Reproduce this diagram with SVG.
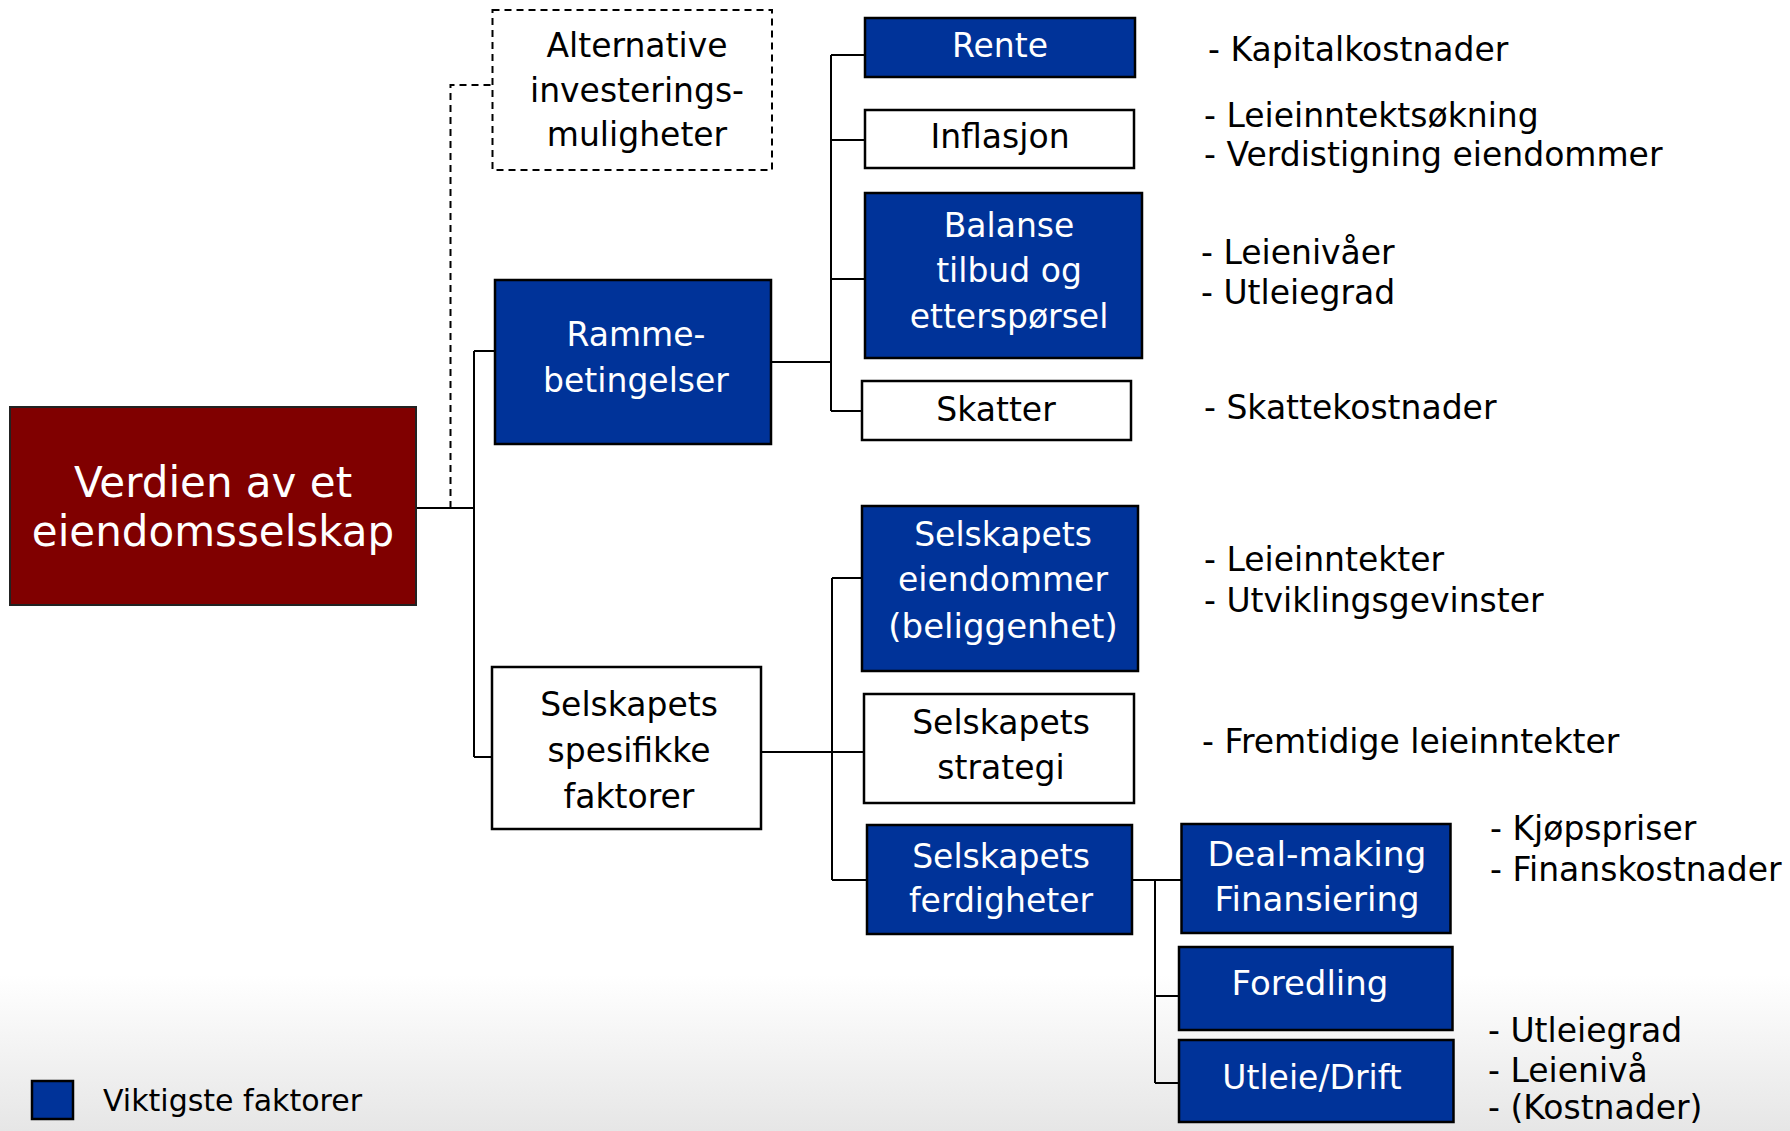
<svg xmlns="http://www.w3.org/2000/svg" width="1790" height="1131" viewBox="0 0 1790 1131">
<defs>
<linearGradient id="bg" x1="0" y1="0" x2="0" y2="1">
<stop offset="0" stop-color="#ffffff"/>
<stop offset="1" stop-color="#e6e6e6"/>
</linearGradient>
<style>
.blue{fill:#003399;stroke:#000;stroke-width:2.5}
.white{fill:#fff;stroke:#000;stroke-width:2.5}
.red{fill:#800000;stroke:#222;stroke-width:2}
.dash{fill:#fff;stroke:#000;stroke-width:2;stroke-dasharray:7 5}
.t{font-family:'DejaVu Sans','Liberation Sans',sans-serif;font-size:33px;text-anchor:middle;fill:#000}
.w{fill:#fff}
.s{font-family:'DejaVu Sans','Liberation Sans',sans-serif;font-size:33px;fill:#000}
.c{stroke:#000;stroke-width:2;fill:none}
.cd{stroke:#000;stroke-width:2;fill:none;stroke-dasharray:7 5}
</style>
</defs>
<rect x="0" y="0" width="1790" height="1131" fill="#fff"/>
<rect x="0" y="975" width="1790" height="156" fill="url(#bg)"/>

<g id="connectors">
<path class="cd" d="M450.5,508 V85 H492.5"/>
<path class="c" d="M416,508 H474 M474,351 V757 M474,351 H495 M474,757 H492"/>
<path class="c" d="M771,362 H831 M831,55 V411 M831,55 H865 M831,140 H865 M831,279 H865 M831,411 H862"/>
<path class="c" d="M761,752 H864 M832,578 V880 M832,578 H862 M832,880 H867"/>
<path class="c" d="M1132,880 H1181.5 M1155,880 V1083 M1155,996 H1179 M1155,1083 H1179"/>
</g>

<g id="root">
<rect class="red" x="10" y="407" width="406" height="198"/>
<text class="t w" x="213" y="497" style="font-size:42px">Verdien av et</text>
<text class="t w" x="213" y="546" style="font-size:42px">eiendomsselskap</text>
</g>

<g id="alternative">
<rect class="dash" x="492.5" y="10" width="279.5" height="160"/>
<text class="t" x="637" y="57">Alternative</text>
<text class="t" x="637" y="102">investerings-</text>
<text class="t" x="637" y="146">muligheter</text>
</g>

<g id="ramme">
<rect class="blue" x="495" y="280" width="276" height="164"/>
<text class="t w" x="636" y="346">Ramme-</text>
<text class="t w" x="636" y="392">betingelser</text>
</g>

<g id="rente">
<rect class="blue" x="865" y="18" width="270" height="59"/>
<text class="t w" x="1000" y="57">Rente</text>
</g>

<g id="inflasjon">
<rect class="white" x="865" y="110" width="269" height="58"/>
<text class="t" x="1000" y="148">Inflasjon</text>
</g>

<g id="balanse">
<rect class="blue" x="865" y="193" width="277" height="165"/>
<text class="t w" x="1009" y="237">Balanse</text>
<text class="t w" x="1009" y="282">tilbud og</text>
<text class="t w" x="1009" y="328">etterspørsel</text>
</g>

<g id="skatter">
<rect class="white" x="862" y="381" width="269" height="59"/>
<text class="t" x="996" y="421">Skatter</text>
</g>

<g id="spesifikke">
<rect class="white" x="492" y="667" width="269" height="162"/>
<text class="t" x="629" y="716">Selskapets</text>
<text class="t" x="629" y="762">spesifikke</text>
<text class="t" x="629" y="808">faktorer</text>
</g>

<g id="eiendommer">
<rect class="blue" x="862" y="506" width="276" height="165"/>
<text class="t w" x="1003" y="546">Selskapets</text>
<text class="t w" x="1003" y="591">eiendommer</text>
<text class="t w" x="1003" y="638" style="font-size:34px">(beliggenhet)</text>
</g>

<g id="strategi">
<rect class="white" x="864" y="694" width="270" height="109"/>
<text class="t" x="1001" y="734">Selskapets</text>
<text class="t" x="1001" y="779">strategi</text>
</g>

<g id="ferdigheter">
<rect class="blue" x="867" y="825" width="265" height="109"/>
<text class="t w" x="1001" y="868">Selskapets</text>
<text class="t w" x="1001" y="912">ferdigheter</text>
</g>

<g id="dealmaking">
<rect class="blue" x="1181.5" y="824" width="269" height="109"/>
<text class="t w" x="1317" y="866" style="font-size:34.5px">Deal-making</text>
<text class="t w" x="1317" y="911" style="font-size:34px">Finansiering</text>
</g>

<g id="foredling">
<rect class="blue" x="1179" y="947" width="273.5" height="83"/>
<text class="t w" x="1310" y="995" style="font-size:34px">Foredling</text>
</g>

<g id="utleie">
<rect class="blue" x="1179" y="1040" width="274.5" height="82"/>
<text class="t w" x="1312" y="1089">Utleie/Drift</text>
</g>

<g id="notes">
<text class="s" x="1208" y="61">- Kapitalkostnader</text>
<text class="s" x="1204" y="127">- Leieinntektsøkning</text>
<text class="s" x="1204" y="166">- Verdistigning eiendommer</text>
<text class="s" x="1201" y="264">- Leienivåer</text>
<text class="s" x="1201" y="304">- Utleiegrad</text>
<text class="s" x="1204" y="419">- Skattekostnader</text>
<text class="s" x="1204" y="571">- Leieinntekter</text>
<text class="s" x="1204" y="612">- Utviklingsgevinster</text>
<text class="s" x="1202" y="753">- Fremtidige leieinntekter</text>
<text class="s" x="1490" y="840">- Kjøpspriser</text>
<text class="s" x="1490" y="881">- Finanskostnader</text>
<text class="s" x="1488" y="1042">- Utleiegrad</text>
<text class="s" x="1488" y="1082">- Leienivå</text>
<text class="s" x="1488" y="1119">- (Kostnader)</text>
</g>

<g id="legend">
<rect class="blue" x="32" y="1081" width="41" height="38"/>
<text class="s" x="103" y="1111" style="font-size:30px">Viktigste faktorer</text>
</g>
</svg>
